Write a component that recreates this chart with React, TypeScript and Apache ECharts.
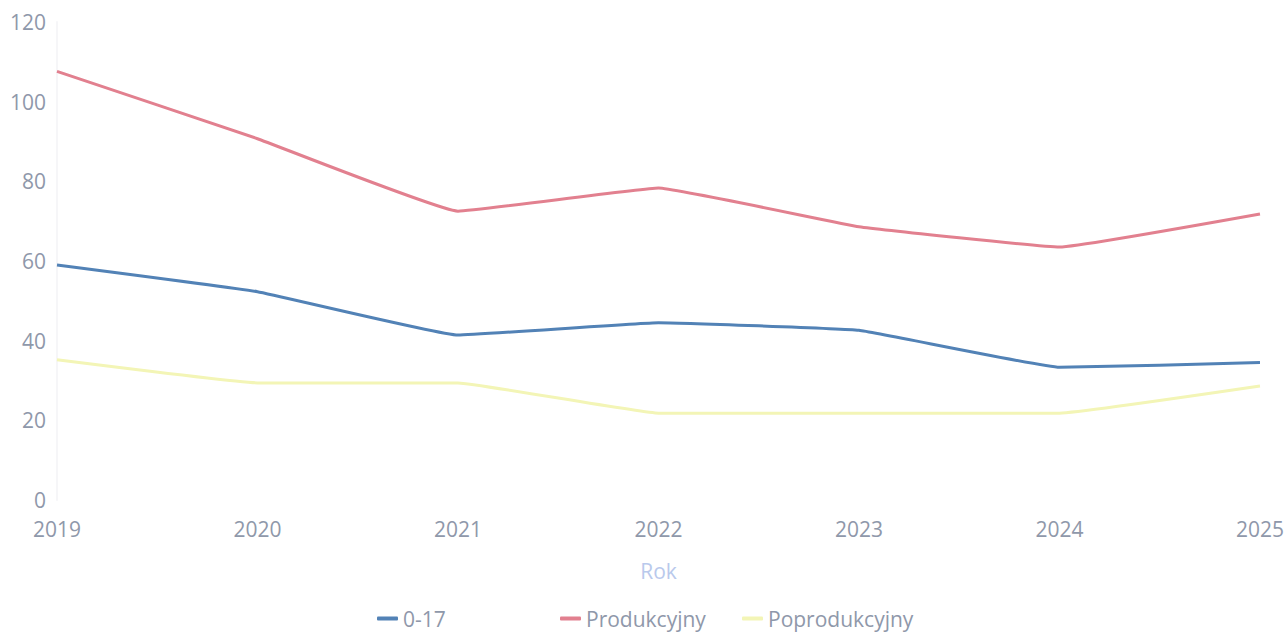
import React, { useEffect, useRef } from "react";
import * as echarts from "echarts";

const years = ["2019", "2020", "2021", "2022", "2023", "2024", "2025"];
const seriesNames = ["0-17", "Produkcyjny", "Poprodukcyjny"];
const values017 = [59, 52.3, 41.4, 44.5, 42.6, 33.3, 34.5];
const valuesProd = [107.6, 90.7, 72.5, 78.3, 68.6, 63.5, 71.8];
const valuesPoprod = [35.2, 29.4, 29.4, 21.8, 21.8, 21.8, 28.6];
const yTicks = { min: 0, max: 120, interval: 20 };

const colors = ["#5282b6", "#e2808f", "#f3f5b6"];
const textColor = "#8f98aa";
const fontFamily = "'Open Sans', 'Noto Sans', sans-serif";
const legendLefts = [372, 555, 737];

export default function App() {
  const ref = useRef<HTMLDivElement>(null);
  useEffect(() => {
    document.body.style.margin = "0";
    const chart = echarts.init(ref.current!, null, { renderer: "svg" });
    const data = [values017, valuesProd, valuesPoprod];
    chart.setOption({
      animation: false,
      backgroundColor: "#ffffff",
      textStyle: { fontFamily },
      grid: { left: 57, right: 27, top: 22, bottom: 134 },
      legend: seriesNames.map((n, i) => ({
        bottom: 0,
        left: legendLefts[i],
        icon: "roundRect",
        itemWidth: 21,
        itemHeight: 4,
        itemGap: 10,
        textStyle: { color: textColor, fontSize: 21, fontFamily },
        data: [n],
      })),
      xAxis: {
        type: "category",
        data: years,
        boundaryGap: false,
        name: "Rok",
        nameLocation: "middle",
        nameGap: 60,
        nameTextStyle: { color: "#b9c9ec", fontSize: 21, fontFamily },
        axisLine: { show: false },
        axisTick: { show: false },
        axisLabel: { color: textColor, fontSize: 21, margin: 18, fontFamily },
        splitLine: { show: false },
      },
      yAxis: {
        type: "value",
        min: yTicks.min,
        max: yTicks.max,
        interval: yTicks.interval,
        axisLine: { show: true, lineStyle: { color: "#f6f6f8", width: 2 } },
        axisTick: { show: false },
        axisLabel: { color: textColor, fontSize: 21, margin: 11, fontFamily },
        splitLine: { show: false },
      },
      series: seriesNames.map((name, i) => ({
        name,
        type: "line",
        data: data[i],
        smooth: 0.08,
        showSymbol: false,
        symbol: "none",
        color: colors[i],
        lineStyle: { width: 3, color: colors[i] },
      })),
    });
    return () => chart.dispose();
  }, []);
  return <div ref={ref} style={{ width: 1287, height: 634 }} />;
}
